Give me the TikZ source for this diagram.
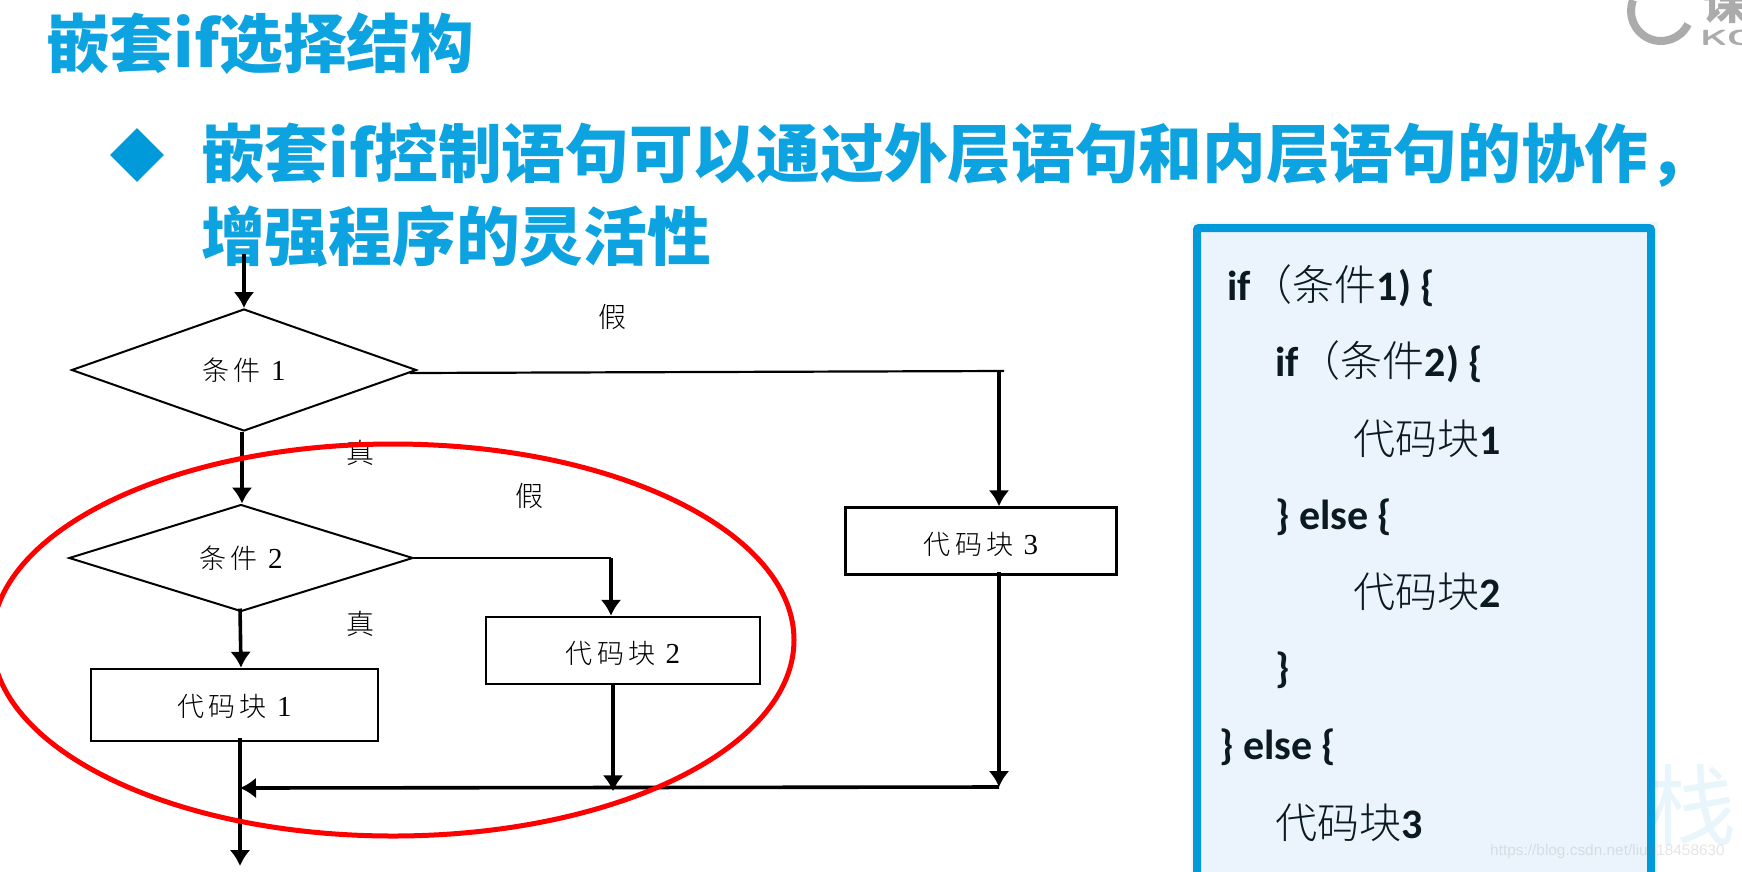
\documentclass[tikz,border=0pt]{standalone}
\usepackage{fontspec}
\usetikzlibrary{arrows.meta,shapes.geometric}
\setmainfont{Liberation Serif}
\newfontfamily\cjkh{Noto Sans CJK SC}
\newfontfamily\cjkb{Noto Sans CJK SC Black}
\newfontfamily\cjkl{Noto Sans CJK SC Light}
\newfontfamily\cjkf[LetterSpace=16]{Noto Sans CJK SC Light}
\newfontfamily\codef{Carlito}
\newcommand{\fsz}[1]{\fontsize{#1}{#1}\selectfont}
\newcommand{\cc}[1]{{\cjkl\mdseries\fsz{42}#1}}
\newcommand{\dg}[1]{{\rmfamily\fsz{29}#1}}
\definecolor{titleblue}{HTML}{0CA3E0}
\definecolor{boxblue}{HTML}{0099D9}
\definecolor{boxfill}{HTML}{EBF4FC}
\definecolor{codeink}{HTML}{0A1A20}
\definecolor{logogray}{HTML}{ABABAB}
\tikzset{
  x=1pt,y=-1pt,
  headline/.style={anchor=west,text=titleblue,inner sep=0,font={\cjkb\fsz{63.7}}},
  codeline/.style={anchor=west,inner sep=0,text=codeink,font={\codef\bfseries\fsz{42}}},
  decision/.style={draw,shape=diamond,line width=2pt,inner sep=0,font={\cjkf\fsz{27}}},
  blockbox/.style={draw,rectangle,line width=2.5pt,inner sep=0,font={\cjkf\fsz{27}}},
  tag/.style={inner sep=0,font={\cjkl\fsz{28}}},
  flow/.style={line width=3.6pt,-{Latex[length=16pt,width=21pt]}},
  plain/.style={line width=3.6pt},
  thinrun/.style={line width=2.2pt},
}
\begin{document}
\begin{tikzpicture}
\useasboundingbox (0,0) rectangle (1742,871);
\clip (0,0) rectangle (1742,871);
\fill[white] (0,0) rectangle (1742,871);
% watermark
\node[inner sep=0,text=boxblue!9,font={\cjkh\fsz{88}}] (wm) at (1692,805) {栈};
% logo
\draw[logogray,line width=8pt] (1661,11) ++(26:30) arc[start angle=26,end angle=201,radius=30];
\node[anchor=west,inner sep=0,text=logogray,font={\cjkh\bfseries\fsz{44}}] (logoa) at (1703,3) {课};
\node[anchor=base west,inner sep=0,text=logogray,font={\sffamily\bfseries\fsz{22}}] (logob) at (1700,45) {\scalebox{1.65}[1]{KG}};
% headings
\node[headline] (title) at (46,44) {嵌套if选择结构};
\node[fill=boxblue,shape=diamond,minimum width=54pt,minimum height=54pt,inner sep=0] (bullet) at (137,155) {};
\node[headline] (l1) at (201,155) {嵌套if控制语句可以通过外层语句和内层语句的协作，};
\node[headline] (l2) at (201,236) {增强程序的灵活性};
% flowchart
\node[decision,minimum width=345pt,minimum height=122pt,shape aspect=2.83] (d1) at (244,370) {条件 \dg{1}};
\node[decision,minimum width=344pt,minimum height=107pt,shape aspect=3.21] (d2) at (241,558) {条件 \dg{2}};
\node[blockbox,minimum width=287pt,minimum height=72pt,text height=24pt,text depth=2pt] (b1) at (234.5,705) {代码块 \dg{1}};
\node[blockbox,minimum width=274pt,minimum height=67pt,text height=26pt,text depth=0pt] (b2) at (623,650.5) {代码块 \dg{2}};
\node[blockbox,minimum width=271pt,minimum height=67pt,text height=26pt,text depth=0pt] (b3) at (981,541) {代码块 \dg{3}};
\node[tag] (t1) at (612,317) {假};
\node[tag] (t2) at (360,453) {真};
\node[tag] (t3) at (529,496) {假};
\node[tag] (t4) at (360,624) {真};
\coordinate (start) at (244,254);
\coordinate (corner1) at (1004,371);
\coordinate (drop3) at (999,371);
\coordinate (corner2) at (611,558);
\coordinate (merge) at (999,787);
\coordinate (mergein) at (240,788);
\coordinate (finish) at (240,866);
\draw[flow] (start) -- (d1.north);
\draw[flow] ([xshift=-2pt]d1.south) -- ([xshift=1pt]d2.north);
\draw[flow] ([xshift=-1pt,yshift=4pt]d2.south) -- (b1.north -| d2.south);
\draw[thinrun] ([xshift=-8pt,yshift=-3pt]d1.east) -- (corner1);
\draw[flow] (drop3) -- (drop3 |- b3.north);
\draw[thinrun] (d2.east) -- (corner2);
\draw[flow] (corner2) -- (corner2 |- b2.north);
\draw[flow] ([xshift=18pt,yshift=4pt]b3.south) -- (merge);
\draw[flow] ([xshift=-10pt]b2.south) -- ++(0,106);
\draw[flow] (merge) -- (mergein);
\draw[flow] ([yshift=4pt]b1.south -| finish) -- (finish);
% red highlight
\draw[red,line width=5pt] (393,640) ellipse[x radius=401,y radius=196];
% code panel
\fill[black,opacity=.04] (1191,222) rectangle (1658,880);
\draw[boxblue,fill=boxfill,line width=8pt,rounded corners=2pt] (1197,228) rectangle (1651,900);
\node[codeline] (c1) at (1227,286) {if\cc{（条件}1) \{};
\node[codeline] (c2) at (1275,362) {if\cc{（条件}2) \{};
\node[codeline] (c3) at (1353,439) {\cc{代码块}1};
\node[codeline] (c4) at (1275,517) {\} else \{};
\node[codeline] (c5) at (1353,592) {\cc{代码块}2};
\node[codeline] (c6) at (1275,670) {\}};
\node[codeline] (c7) at (1219,747) {\} else \{};
\node[codeline] (c8) at (1275,823) {\cc{代码块}3};
% url watermark
\node[anchor=west,inner sep=0,text=gray,opacity=.2,font={\fontspec{Liberation Sans}\fsz{15.4}}] (url) at (1490,852) {https://blog.csdn.net/liu918458630};
\end{tikzpicture}
\end{document}
